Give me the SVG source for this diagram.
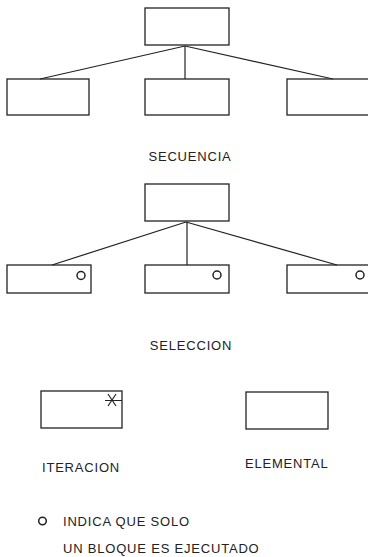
<svg xmlns="http://www.w3.org/2000/svg" width="368" height="557" viewBox="0 0 368 557">
<style>
.b{fill:none;stroke:#222;stroke-width:1.3}
.c{fill:none;stroke:#222;stroke-width:1.2}
.o{fill:none;stroke:#222;stroke-width:1.5}
.t{font-family:"Liberation Sans",Arial,sans-serif;font-size:13px;fill:#222;letter-spacing:0.8px}
</style>
<rect width="368" height="557" fill="#fff"/>
<g id="connectors">
<line class="c" x1="185" y1="46" x2="40" y2="79"/>
<line class="c" x1="185" y1="46" x2="185" y2="79"/>
<line class="c" x1="185" y1="46" x2="333" y2="79"/>
<line class="c" x1="186" y1="222" x2="52" y2="265"/>
<line class="c" x1="187" y1="222" x2="187" y2="265"/>
<line class="c" x1="186" y1="222" x2="337" y2="265"/>
</g>
<g id="seq-root"><rect class="b" x="145" y="8" width="84" height="37"/></g>
<g id="seq-a"><rect class="b" x="7" y="79" width="82" height="36"/></g>
<g id="seq-b"><rect class="b" x="145" y="79" width="84" height="36"/></g>
<g id="seq-c"><rect class="b" x="287" y="79" width="84" height="36"/></g>
<g id="lbl-secuencia"><text class="t" x="190" y="161" text-anchor="middle">SECUENCIA</text></g>
<g id="sel-root"><rect class="b" x="145" y="184" width="84" height="37"/></g>
<g id="sel-a"><rect class="b" x="7" y="265" width="84" height="28"/><circle class="o" cx="81" cy="275.5" r="4"/></g>
<g id="sel-b"><rect class="b" x="145" y="265" width="84" height="28"/><circle class="o" cx="217" cy="275" r="4"/></g>
<g id="sel-c"><rect class="b" x="287" y="265" width="84" height="28"/><circle class="o" cx="360" cy="275" r="4"/></g>
<g id="lbl-seleccion"><text class="t" x="191" y="350" text-anchor="middle">SELECCION</text></g>
<g id="iteracion"><rect class="b" x="41" y="391" width="81" height="37"/>
<path class="c" d="M105 400.5h17M108 394l8 12M116 394l-8 12"/></g>
<g id="elemental"><rect class="b" x="246" y="392" width="82" height="37"/></g>
<g id="lbl-iteracion"><text class="t" x="42" y="472">ITERACION</text></g>
<g id="lbl-elemental"><text class="t" x="245" y="468">ELEMENTAL</text></g>
<g id="legend">
<circle class="o" cx="42.5" cy="521" r="3.8"/>
<text class="t" x="63" y="526">INDICA QUE SOLO</text>
<text class="t" x="63" y="553">UN BLOQUE ES EJECUTADO</text>
</g>
</svg>
